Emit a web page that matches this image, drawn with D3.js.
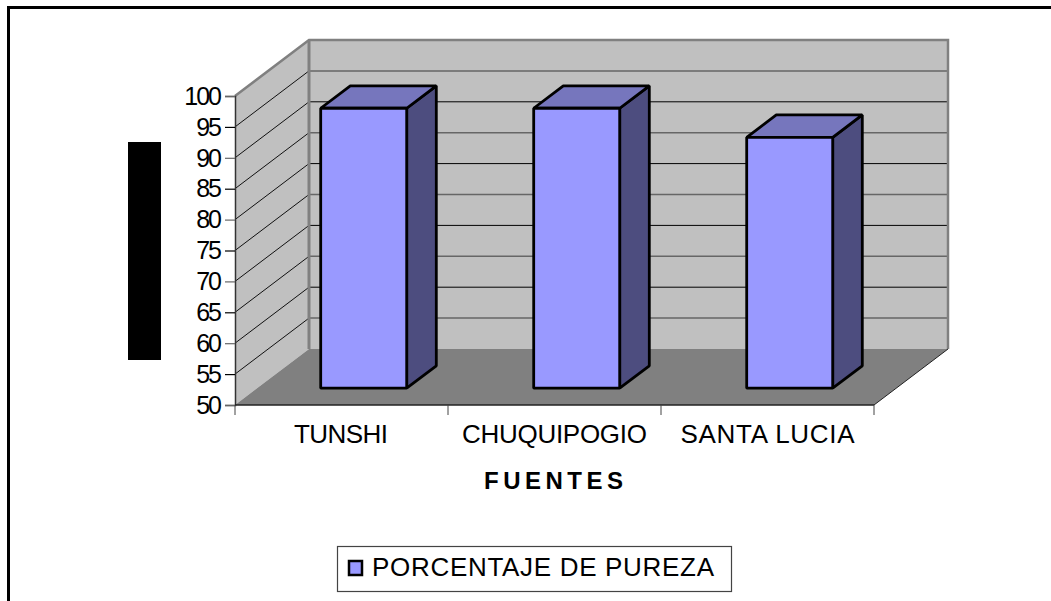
<!DOCTYPE html>
<html>
<head>
<meta charset="utf-8">
<style>
html,body{margin:0;padding:0;background:#fff;}
svg{display:block;}
text{font-family:"Liberation Sans",Arial,sans-serif;fill:#000;}
</style>
<script src="https://cdnjs.cloudflare.com/ajax/libs/d3/7.8.5/d3.min.js"></script>
</head>
<body>
<svg id="chart" width="1051" height="601"></svg>
<script>
/* data */
var categories=['TUNSHI','CHUQUIPOGIO','SANTA LUCIA'];
var pureza=[95.3,95.3,90.6];
var yTicks=[50,55,60,65,70,75,80,85,90,95,100];
var seriesName='PORCENTAJE DE PUREZA';
var xTitle='FUENTES';

var svg=d3.select('#chart');
var DX=74, DY=56;                 // how far the back wall sits from the front plane
var BAR_W=86, BAR_FRONT=0.3, BAR_BACK=0.7;

var x=d3.scaleBand().domain(categories).range([235,874]);
var y=d3.scaleLinear().domain([50,100]).range([405,96]);

// project a point of the front plane back to some depth (0 front, 1 back wall)
function P(px,v,d){return [px+d*DX, y(v)-d*DY];}
function poly(pts){return pts.map(function(p){return p[0]+','+p[1];}).join(' ');}

/* ── frame (only top and left are visible) ── */
svg.append('rect').attr('x',7).attr('y',6).attr('width',3).attr('height',595).attr('fill','#000');
svg.append('rect').attr('x',7).attr('y',6).attr('width',1044).attr('height',3).attr('fill','#000');

/* ── black block where the y title sits ── */
svg.append('rect').attr('x',128).attr('y',142).attr('width',33).attr('height',218).attr('fill','#000');

/* ── walls and floor ── */
var xL=x.range()[0], xR=x.range()[1];
svg.append('polygon').attr('points',poly([P(xL,100,1),P(xR,100,1),P(xR,50,1),P(xL,50,1)])).attr('fill','#c0c0c0');
svg.append('polygon').attr('points',poly([P(xL,100,0),P(xL,100,1),P(xL,50,1),P(xL,50,0)])).attr('fill','#c0c0c0');
svg.append('polygon').attr('points',poly([P(xL,50,0),P(xR,50,0),P(xR,50,1),P(xL,50,1)])).attr('fill','#808080');

/* gridlines on both walls */
yTicks.slice(1,-1).forEach(function(v){
  var a=P(xL,v,0), b=P(xL,v,1), c=P(xR,v,1);
  svg.append('line').attr('x1',a[0]).attr('y1',a[1]).attr('x2',b[0]).attr('y2',b[1])
    .attr('stroke','#111').attr('stroke-width',1);
  svg.append('line').attr('x1',b[0]).attr('y1',b[1]).attr('x2',c[0]).attr('y2',c[1])
    .attr('stroke',v%10===0?'#000':'#666').attr('stroke-width',v%10===0?1:1.5);
});

/* wall outlines */
svg.append('polyline').attr('points',poly([P(xL,100,0),P(xL,100,1),P(xR,100,1),P(xR,50,1)]))
  .attr('fill','none').attr('stroke','#808080').attr('stroke-width',2.5);
svg.append('line').attr('x1',P(xL,100,1)[0]).attr('y1',P(xL,100,1)[1]).attr('x2',P(xL,50,1)[0]).attr('y2',P(xL,50,1)[1])
  .attr('stroke','#808080').attr('stroke-width',3);
svg.append('line').attr('x1',P(xR,50,0)[0]).attr('y1',P(xR,50,0)[1]).attr('x2',P(xR,50,1)[0]).attr('y2',P(xR,50,1)[1])
  .attr('stroke','#222').attr('stroke-width',1);

/* ── axes ── */
var gy=svg.append('g').attr('transform','translate('+xL+',0)')
  .call(d3.axisLeft(y).tickValues(yTicks).tickSize(10).tickPadding(5));
gy.select('.domain').attr('stroke','#333').attr('stroke-width',1.5);
gy.selectAll('.tick line').attr('stroke',function(d){return d%10===0?'#666':'#000';}).attr('stroke-width',1.2);
gy.selectAll('.tick text').attr('font-size',25).attr('font-family','"Liberation Sans",Arial,sans-serif')
  .attr('letter-spacing',-2).attr('dy','0.33em');

var xEdges=categories.map(function(c){return x(c);}).concat([xR]);
svg.append('line').attr('x1',xL).attr('x2',xR).attr('y1',y(50)).attr('y2',y(50)).attr('stroke','#222').attr('stroke-width',1.5);
xEdges.forEach(function(e){
  svg.append('line').attr('x1',e).attr('x2',e).attr('y1',y(50)).attr('y2',y(50)+10).attr('stroke','#444').attr('stroke-width',1);
});

var labelW=[94,185,174];
categories.forEach(function(c,i){
  svg.append('text').attr('x',x(c)+x.bandwidth()/2+(i===0?-0.5:0)).attr('y',443)
    .attr('text-anchor','middle').attr('font-size',26)
    .attr('textLength',labelW[i]).attr('lengthAdjust','spacing')
    .text(c);
});

svg.append('text').attr('x',553.5).attr('y',489).attr('text-anchor','middle')
  .attr('font-size',24).attr('font-weight','bold')
  .attr('textLength',139).attr('lengthAdjust','spacing').text(xTitle);

/* ── bars ── */
categories.forEach(function(c,i){
  var x0=x(c)+(x.bandwidth()-BAR_W)/2, x1=x0+BAR_W, v=pureza[i];
  var g=svg.append('g').attr('stroke','#000').attr('stroke-width',2.8).attr('stroke-linejoin','bevel');
  g.append('polygon').attr('fill','#4d4d7f')
    .attr('points',poly([P(x1,50,BAR_FRONT),P(x1,v,BAR_FRONT),P(x1,v,BAR_BACK),P(x1,50,BAR_BACK)]));
  g.append('polygon').attr('fill','#7676bd')
    .attr('points',poly([P(x0,v,BAR_FRONT),P(x0,v,BAR_BACK),P(x1,v,BAR_BACK),P(x1,v,BAR_FRONT)]));
  g.append('polygon').attr('fill','#9999ff')
    .attr('points',poly([P(x0,50,BAR_FRONT),P(x0,v,BAR_FRONT),P(x1,v,BAR_FRONT),P(x1,50,BAR_FRONT)]));
});

/* ── legend ── */
svg.append('rect').attr('x',337.5).attr('y',546.5).attr('width',394).attr('height',45)
  .attr('fill','#fff').attr('stroke','#444').attr('stroke-width',1.2);
svg.append('rect').attr('x',349).attr('y',561).attr('width',13).attr('height',14)
  .attr('fill','#9999ff').attr('stroke','#000').attr('stroke-width',2.5);
svg.append('text').attr('x',372).attr('y',576).attr('font-size',26)
  .attr('textLength',342).attr('lengthAdjust','spacing').text(seriesName);
</script>
</body>
</html>
